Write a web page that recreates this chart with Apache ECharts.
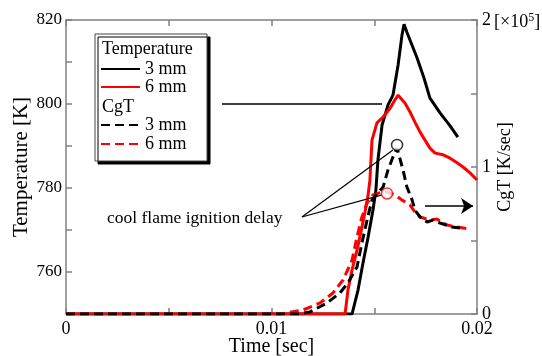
<!DOCTYPE html>
<html>
<head>
<meta charset="utf-8">
<script src="https://cdn.jsdelivr.net/npm/echarts@6/dist/echarts.min.js"></script>
<style>
  html, body { margin: 0; padding: 0; background: #fff; }
  #chart { width: 542px; height: 356px; }
</style>
</head>
<body>
<div id="chart"></div>
<script>
// time [sec], temperature [K]
const temp3mm = [
  [0, 750], [0.01392, 750], [0.01421, 755.7], [0.01445, 762.1], [0.0147, 768.3],
  [0.01494, 774.8], [0.01508, 779.5], [0.01518, 786.7], [0.01538, 795], [0.01567, 799.8],
  [0.01591, 802.1], [0.01616, 809.3], [0.01635, 816.4], [0.01645, 819], [0.01659, 817.1],
  [0.01684, 814], [0.01708, 811], [0.01742, 806.2], [0.01771, 801.4], [0.0182, 797.9],
  [0.01869, 794.8], [0.01907, 792.1]
];
const temp6mm = [
  [0, 750], [0.01358, 750], [0.01372, 755.7], [0.01392, 760.5], [0.01416, 765.2],
  [0.01435, 769.5], [0.01455, 774.3], [0.0147, 778.3], [0.01479, 781.9], [0.01484, 786.7],
  [0.01489, 791.4], [0.01513, 795.5], [0.01543, 796.9], [0.01577, 799], [0.01601, 801],
  [0.01616, 802.1], [0.01625, 801.7], [0.0165, 800.2], [0.01674, 798.1], [0.01698, 795.7],
  [0.01723, 793.3], [0.01747, 791.4], [0.01771, 789.5], [0.01796, 788.3], [0.01835, 787.9],
  [0.01869, 787.1], [0.01903, 786], [0.01932, 785], [0.01966, 783.6], [0.02, 781.9]
];
// time [sec], CgT [x1e5 K/sec]
const cgt3mm = [
  [0, 0], [0.01129, 0], [0.01187, 0.014], [0.0127, 0.075], [0.01333, 0.143],
  [0.01372, 0.211], [0.01416, 0.32], [0.0144, 0.483], [0.01465, 0.639], [0.01489, 0.776],
  [0.01543, 0.864], [0.01567, 0.98], [0.01591, 1.068], [0.01611, 1.129], [0.0164, 0.98],
  [0.01659, 0.864], [0.01684, 0.776], [0.01698, 0.707], [0.01723, 0.66], [0.01757, 0.626],
  [0.01786, 0.639], [0.0182, 0.619], [0.01878, 0.592], [0.01917, 0.585]
];
const cgt6mm = [
  [0, 0], [0.01041, 0], [0.01153, 0.027], [0.01236, 0.075], [0.01299, 0.143],
  [0.01348, 0.231], [0.01392, 0.367], [0.01416, 0.524], [0.0144, 0.66], [0.01465, 0.755],
  [0.01494, 0.81], [0.01538, 0.83], [0.01562, 0.83], [0.01601, 0.81], [0.01635, 0.776],
  [0.01674, 0.741], [0.01698, 0.694], [0.01723, 0.66], [0.01771, 0.639], [0.01805, 0.646],
  [0.01854, 0.605], [0.01903, 0.592], [0.01966, 0.578]
];
// cool flame ignition delay markers
const delay3mm = [[0.01611, 1.15]];
const delay6mm = [[0.01562, 0.82]];

const xTickLabels = [0, 0.01, 0.02];
const tempTickLabels = [760, 780, 800, 820];
const cgtTickLabels = [0, 1, 2];

const font = "'Liberation Serif', 'Times New Roman', serif";
const axisGrey = "#808080";

const chart = echarts.init(document.getElementById("chart"));

const near = (list, v) => list.some((x) => Math.abs(x - v) < 1e-9);

const baseAxis = {
  axisLine: { show: true, onZero: false, lineStyle: { color: axisGrey, width: 1.5 } },
  axisTick: { show: true, inside: true, length: 6, lineStyle: { color: axisGrey, width: 1.5 } },
  splitLine: { show: false },
  nameMoveOverlap: false,
  nameTextStyle: { fontFamily: font, color: "#000" },
};

const labelStyle = { fontFamily: font, fontSize: 18, color: "#000" };

const option = {
  animation: false,
  backgroundColor: "#fff",
  grid: { left: 66, right: 65, top: 20, bottom: 42, containLabel: false, outerBoundsMode: "none" },
  xAxis: [
    {
      ...baseAxis,
      type: "value",
      min: 0,
      max: 0.02,
      interval: 0.005,
      name: "Time [sec]",
      nameLocation: "middle",
      nameGap: 23,
      nameTextStyle: { fontFamily: font, fontSize: 20, color: "#000" },
      axisLabel: {
        ...labelStyle,
        margin: 6,
        formatter: (v) => (near(xTickLabels, v) ? String(+v.toFixed(3)) : ""),
      },
    },
    {
      ...baseAxis,
      type: "value",
      position: "top",
      min: 0,
      max: 0.02,
      interval: 0.005,
      axisLabel: { show: false },
    },
  ],
  yAxis: [
    {
      ...baseAxis,
      type: "value",
      min: 750,
      max: 820,
      interval: 10,
      name: "Temperature [K]",
      nameLocation: "middle",
      nameRotate: 90,
      nameGap: 34,
      nameTextStyle: { fontFamily: font, fontSize: 21, color: "#000" },
      axisLabel: {
        ...labelStyle,
        fontSize: 17,
        margin: 4,
        formatter: (v) => (near(tempTickLabels, v) ? String(v) : ""),
      },
    },
    {
      ...baseAxis,
      type: "value",
      position: "right",
      min: 0,
      max: 2,
      interval: 0.5,
      name: "CgT [K/sec]",
      nameLocation: "middle",
      nameRotate: 90,
      nameGap: 19,
      nameTextStyle: { fontFamily: font, fontSize: 18, color: "#000" },
      axisLabel: {
        ...labelStyle,
        margin: 5,
        formatter: (v) => (near(cgtTickLabels, v) ? String(v) : ""),
      },
    },
  ],
  legend: [
    {
      data: ["T3", "T6"],
      left: 100,
      top: 60,
      orient: "vertical",
      padding: 0,
      itemGap: 0,
      itemWidth: 39,
      itemHeight: 17,
      selectedMode: false,
      itemStyle: { opacity: 0 },
      formatter: (n) => n.slice(1) + " mm",
      textStyle: { ...labelStyle, lineHeight: 17 },
    },
    {
      data: ["C3", "C6"],
      left: 100,
      top: 116,
      orient: "vertical",
      padding: 0,
      itemGap: 1,
      itemWidth: 39,
      itemHeight: 17,
      selectedMode: false,
      itemStyle: { opacity: 0 },
      formatter: (n) => n.slice(1) + " mm",
      textStyle: { ...labelStyle, lineHeight: 17 },
    },
  ],
  graphic: [
    {
      type: "rect",
      z: 0,
      shape: { x: 95, y: 34, width: 112, height: 127 },
      style: {
        fill: "#fff",
        stroke: "#444",
        lineWidth: 1,
        shadowColor: "#000",
        shadowBlur: 0,
        shadowOffsetX: 3,
        shadowOffsetY: 3,
      },
    },
    {
      type: "text",
      z: 5,
      left: 102,
      top: 40,
      style: { text: "Temperature", font: "18px " + font, fill: "#000" },
    },
    {
      type: "text",
      z: 5,
      left: 102,
      top: 98,
      style: { text: "CgT", font: "18px " + font, fill: "#000" },
    },
    {
      type: "text",
      z: 5,
      left: 107,
      top: 209,
      style: { text: "cool flame ignition delay", font: "17.5px " + font, fill: "#000" },
    },
    {
      type: "text",
      z: 5,
      left: 494,
      top: 12,
      style: {
        text: "[×10{sup|5}]",
        font: "18px " + font,
        fill: "#000",
        rich: {
          sup: { fontFamily: font, fontSize: 12, verticalAlign: "top", padding: [0, 0, 8, 0] },
        },
      },
    },
  ],
  series: [
    {
      name: "T3",
      type: "line",
      yAxisIndex: 0,
      data: temp3mm,
      symbol: "none",
      lineStyle: { color: "#000", width: 3 },
      itemStyle: { color: "#000" },
      markLine: {
        silent: true,
        symbol: ["none", "arrow"],
        symbolSize: [0, 12],
        label: { show: false },
        lineStyle: { color: "#000", width: 1.5, type: "solid" },
        data: [[{ coord: [0.01538, 800] }, { coord: [0.00759, 800] }]],
      },
    },
    {
      name: "T6",
      type: "line",
      yAxisIndex: 0,
      data: temp6mm,
      symbol: "none",
      lineStyle: { color: "#ff0000", width: 3 },
      itemStyle: { color: "#ff0000" },
    },
    {
      name: "C6",
      type: "line",
      yAxisIndex: 1,
      data: cgt6mm,
      symbol: "none",
      lineStyle: { color: "#ff0000", width: 3, type: [9, 5] },
      itemStyle: { color: "#ff0000" },
    },
    {
      name: "C3",
      type: "line",
      yAxisIndex: 1,
      data: cgt3mm,
      symbol: "none",
      lineStyle: { color: "#000", width: 3, type: [9, 5] },
      itemStyle: { color: "#000" },
      markLine: {
        silent: true,
        symbol: ["none", "none"],
        label: { show: false },
        lineStyle: { color: "#000", width: 1.2, type: "solid" },
        data: [
          [{ coord: [0.01148, 0.66] }, { coord: [0.01591, 1.116] }],
          [{ coord: [0.01148, 0.66] }, { coord: [0.01538, 0.81] }],
          [
            { coord: [0.01747, 0.735], symbol: "none" },
            { coord: [0.01981, 0.735], symbol: "arrow", symbolSize: 12, lineStyle: { width: 1.5 } },
          ],
        ],
      },
    },
    {
      name: "delay3",
      type: "scatter",
      yAxisIndex: 1,
      data: delay3mm,
      symbol: "circle",
      symbolSize: 11,
      itemStyle: { color: "#fff", borderColor: "#000", borderWidth: 1.5 },
      z: 5,
    },
    {
      name: "delay6",
      type: "scatter",
      yAxisIndex: 1,
      data: delay6mm,
      symbol: "circle",
      symbolSize: 11,
      itemStyle: { color: "#fff", borderColor: "#ff0000", borderWidth: 1.5 },
      z: 5,
    },
  ],
};

chart.setOption(option);
</script>
</body>
</html>
